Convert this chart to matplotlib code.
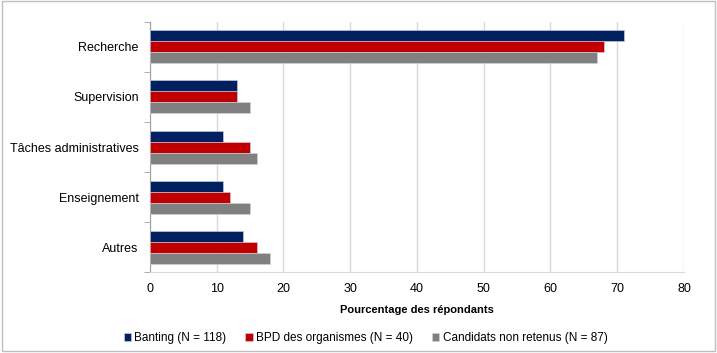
import numpy as np
import matplotlib
matplotlib.use("Agg")
import matplotlib.pyplot as plt
from matplotlib.patches import Rectangle

plt.rcParams['font.family'] = ['Liberation Sans', 'DejaVu Sans']

categories = ["Recherche", "Supervision", "Tâches administratives", "Enseignement", "Autres"]
banting = [71, 13, 11, 11, 14]
bpd = [68, 13, 15, 12, 16]
non_retenus = [67, 15, 16, 15, 18]
series_labels = ["Banting (N = 118)", "BPD des organismes (N = 40)", "Candidats non retenus (N = 87)"]
colors = ["#002060", "#C00000", "#808080"]

fig = plt.figure(figsize=(7.17, 3.53), dpi=100)
ax = fig.add_axes([0.209, 0.229, 0.745, 0.709])

y = np.arange(len(categories))
h = 0.22
for i, (vals, lab, col) in enumerate(zip([banting, bpd, non_retenus], series_labels, colors)):
    ax.barh(y + (i - 1) * h, vals, height=h, color=col, label=lab,
            edgecolor="#d0d4e0", linewidth=0.4, zorder=3)

ax.set_xlim(0, 80)
ax.set_xticks(range(0, 81, 10))
ax.set_ylim(len(categories) - 0.5, -0.5)
ax.set_yticks(y)
ax.set_yticklabels(categories, fontsize=9)
ax.set_yticks(np.arange(-0.5, len(categories)), minor=True)
ax.tick_params(axis="y", which="major", length=0, pad=8)
ax.tick_params(axis="y", which="minor", length=4, color="#a0a0a0")
ax.tick_params(axis="x", length=0, labelsize=9, pad=8)
ax.grid(axis="x", color="#d9d9d9", linewidth=1, zorder=0)
for s in ["top", "right"]:
    ax.spines[s].set_visible(False)
ax.spines["left"].set_color("#a0a0a0")
ax.spines["bottom"].set_color("#d9d9d9")
ax.set_xlabel("Pourcentage des répondants", fontsize=8, fontweight="bold", labelpad=7)

leg = fig.legend(loc="lower center", bbox_to_anchor=(0.51, -0.005), ncol=3, frameon=False,
                 fontsize=8.5, handlelength=0.6, handleheight=0.6, handletextpad=0.3,
                 columnspacing=1.6)

fig.patches.append(Rectangle((0.003, 0.006), 0.994, 0.99, transform=fig.transFigure,
                             fill=False, edgecolor="#bfbfbf", linewidth=1))

fig.savefig("out.png", dpi=100)
